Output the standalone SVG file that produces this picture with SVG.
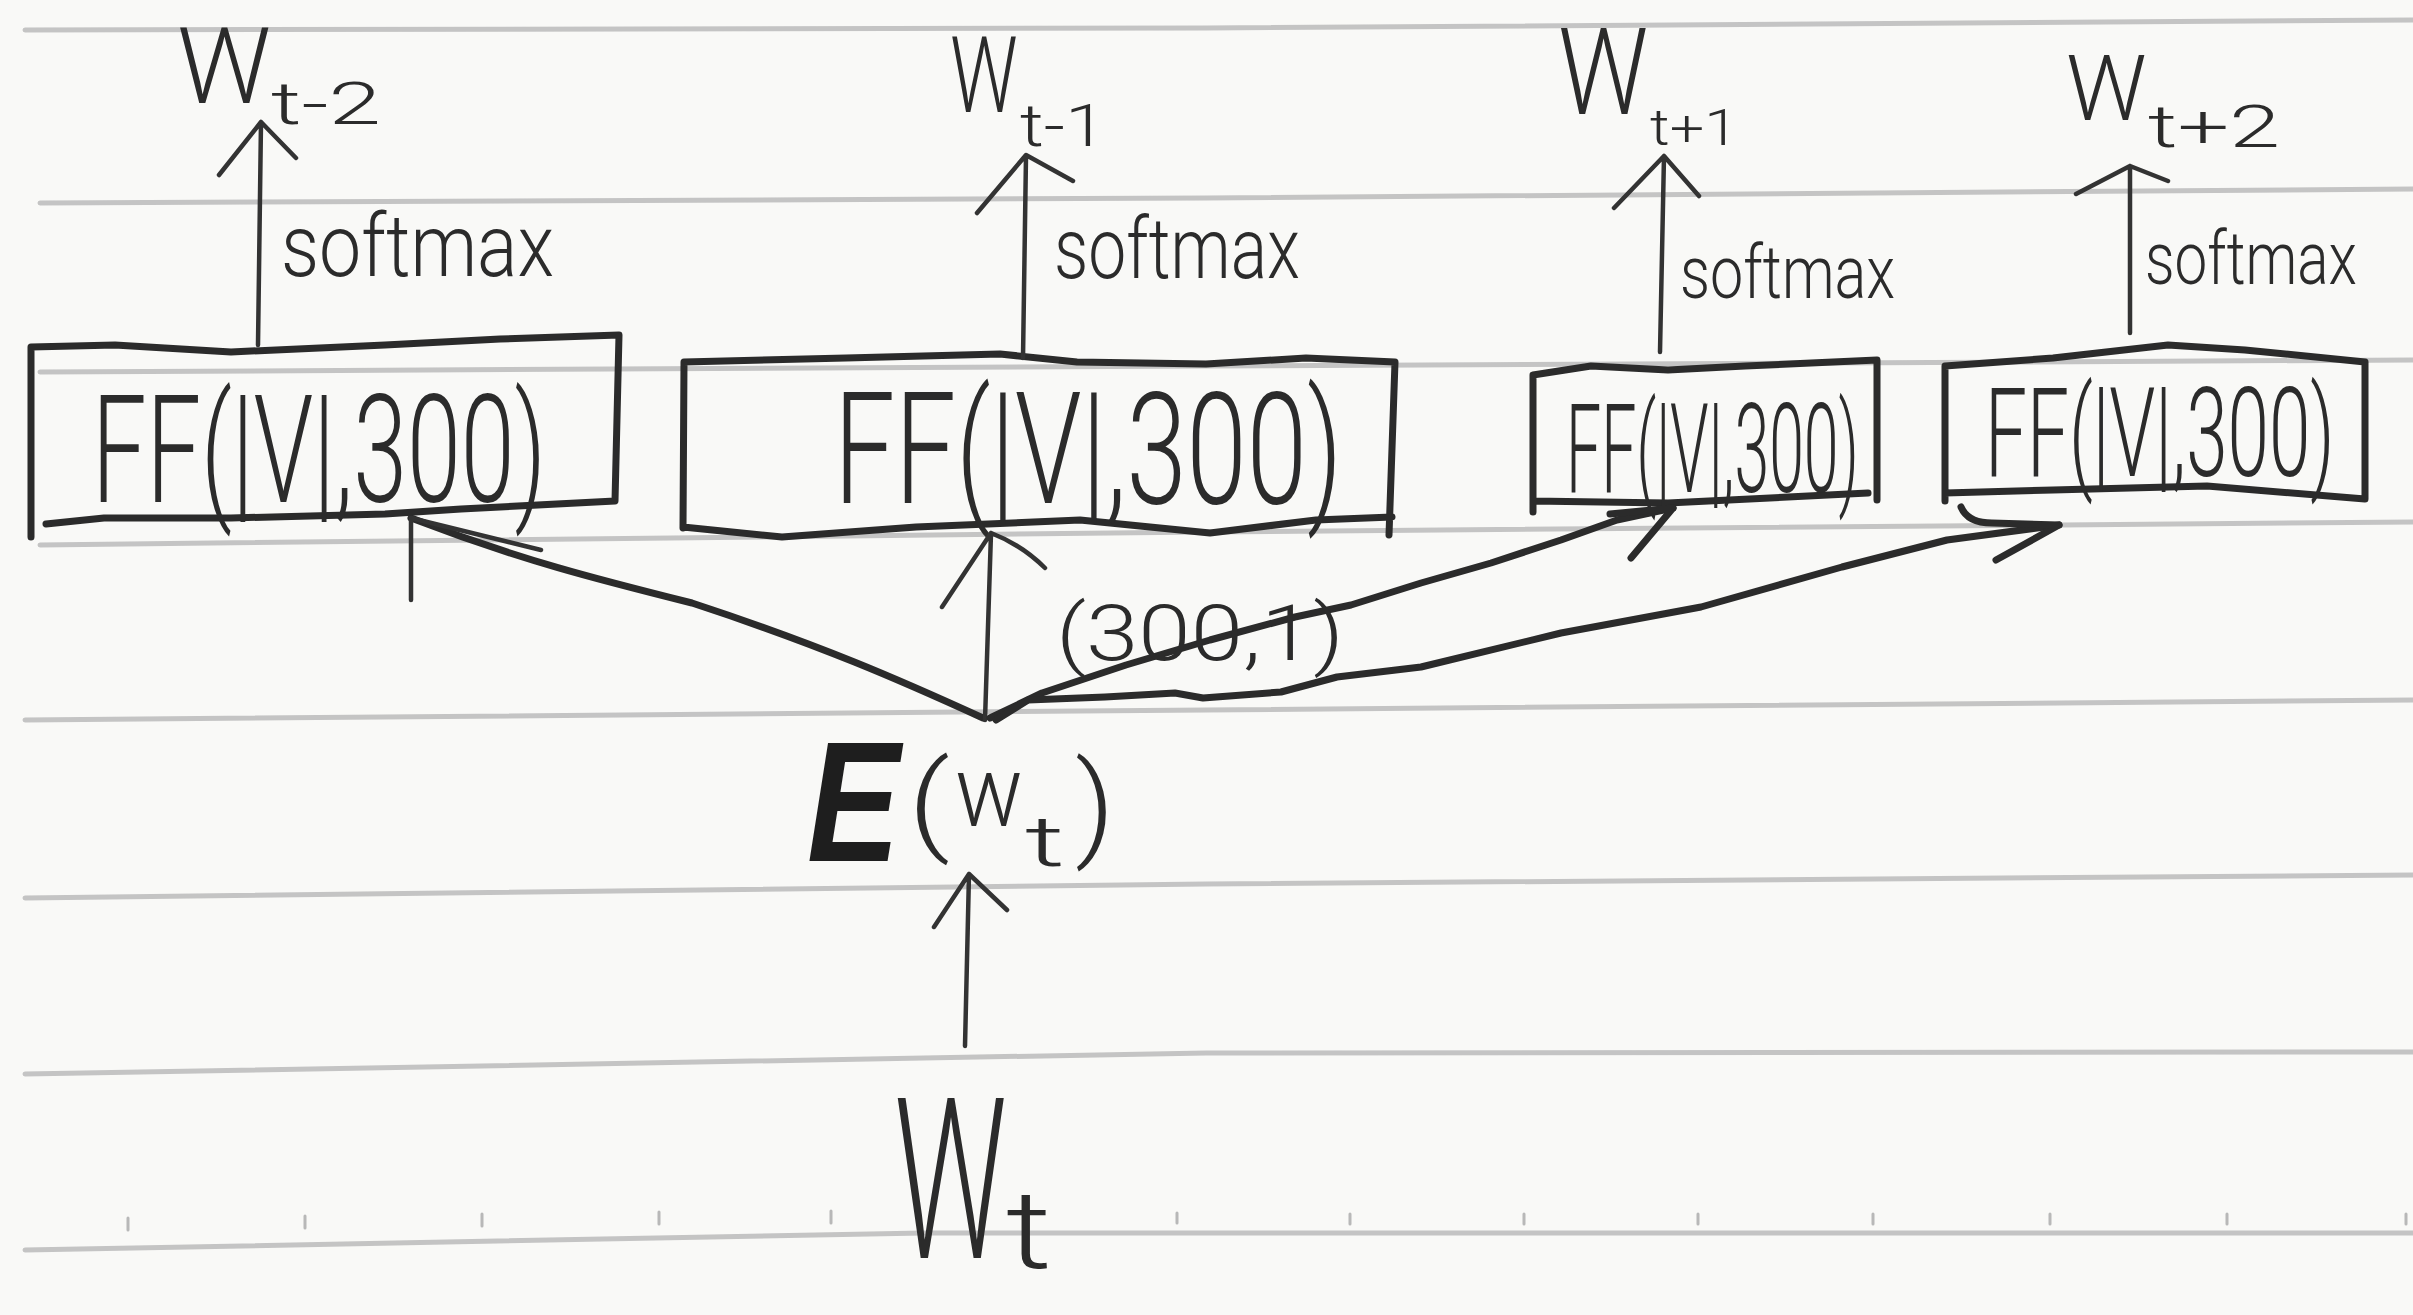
<svg xmlns="http://www.w3.org/2000/svg" width="2413" height="1315" viewBox="0 0 2413 1315">
<defs>
<style>
.paper{fill:#f9f9f7}
.rule{fill:none;stroke:#c4c4c4;stroke-width:5;stroke-linecap:round}
.tick{stroke:#b8b8b8;stroke-width:3;stroke-linecap:round}
.box{fill:none;stroke:#2b2b2b;stroke-width:7;stroke-linejoin:round;stroke-linecap:round}
.conn{fill:none;stroke:#2b2b2b;stroke-width:7;stroke-linecap:round;stroke-linejoin:round}
.arr{fill:none;stroke:#333;stroke-width:4.5;stroke-linecap:round;stroke-linejoin:round}
.hw{font-family:Roboto,"Liberation Sans",sans-serif;font-weight:300;fill:#2b2b2b}
.bold{font-family:"Liberation Sans",sans-serif;font-weight:bold;font-style:italic;fill:#1e1e1e}
</style>
</defs>
<rect class="paper" x="0" y="0" width="2413" height="1315"/>
<g id="paper-lines">
<path class="rule" d="M25,30 L1206,28 L2413,20"/>
<path class="rule" d="M40,203 L1206,198 L2413,189"/>
<path class="rule" d="M40,372 L1206,366 L2413,360"/>
<path class="rule" d="M40,545 L1206,532 L2413,522"/>
<path class="rule" d="M25,720 L1206,710 L2413,700"/>
<path class="rule" d="M25,898 L1206,884 L2413,875"/>
<path class="rule" d="M25,1074 L1206,1053 L2413,1052"/>
<path class="rule" d="M25,1250 L923,1233 L2413,1233"/>
<g class="tick">
<line x1="128" y1="1218" x2="128" y2="1230"/><line x1="305" y1="1216" x2="305" y2="1228"/><line x1="482" y1="1214" x2="482" y2="1226"/><line x1="659" y1="1212" x2="659" y2="1224"/><line x1="831" y1="1211" x2="831" y2="1223"/><line x1="1177" y1="1213" x2="1177" y2="1223"/><line x1="1350" y1="1214" x2="1350" y2="1224"/><line x1="1524" y1="1214" x2="1524" y2="1224"/><line x1="1698" y1="1214" x2="1698" y2="1224"/><line x1="1873" y1="1214" x2="1873" y2="1224"/><line x1="2050" y1="1214" x2="2050" y2="1224"/><line x1="2227" y1="1214" x2="2227" y2="1224"/><line x1="2406" y1="1214" x2="2406" y2="1224"/>
</g>
</g>

<g id="ff1">
<path class="box" d="M31,537 L31,347 L115,345 L231,352 L385,345 L500,339 L619,335 L615,501 L461,509 L385,514 L231,518 L104,518 L46,524"/>
<text class="hw" transform="translate(92,502) scale(0.646,1)" font-size="150">FF(|V|,300)</text>
</g>
<g id="ff2">
<path class="box" d="M683,528 L684,362 L846,358 L1000,354 L1077,362 L1206,364 L1306,358 L1395,362 L1389,535 M683,527 L782,537 L916,527 L1080,520 L1210,533 L1316,520 L1392,517"/>
<text class="hw" transform="translate(834,503) scale(0.70,1)" font-size="155">FF(|V|,300)</text>
</g>
<g id="ff3">
<path class="box" d="M1533,512 L1533,375 L1591,366 L1668,370 L1745,366 L1877,360 L1877,500 M1533,501 L1668,503 L1868,493"/>
<text class="hw" transform="translate(1566,492) scale(0.50,1)" font-size="125">FF(|V|,300)</text>
</g>
<g id="ff4">
<path class="box" d="M1945,501 L1945,366 L2053,358 L2168,345 L2245,350 L2365,362 L2365,499 L2207,486 L2053,490 L1945,493"/>
<text class="hw" transform="translate(1985,476) scale(0.597,1)" font-size="125">FF(|V|,300)</text>
</g>

<g id="w-t-2">
<text class="hw" x="177" y="103" font-size="105">W</text>
<text class="hw" x="271" y="124" font-size="60" textLength="110" lengthAdjust="spacingAndGlyphs">t-2</text>
</g>
<g id="w-t-1">
<text class="hw" transform="translate(950,112) scale(0.72,1)" font-size="105">W</text>
<text class="hw" x="1020" y="146" font-size="60" textLength="86" lengthAdjust="spacingAndGlyphs">t-1</text>
</g>
<g id="w-t+1">
<text class="hw" transform="translate(1558,114) scale(0.84,1)" font-size="120">W</text>
<text class="hw" x="1650" y="145" font-size="50" textLength="88" lengthAdjust="spacingAndGlyphs">t+1</text>
</g>
<g id="w-t+2">
<text class="hw" x="2066" y="120" font-size="90">W</text>
<text class="hw" x="2148" y="147" font-size="60" textLength="132" lengthAdjust="spacingAndGlyphs">t+2</text>
</g>

<g id="embedding">
<text class="bold" transform="translate(807,861) scale(0.82,1)" font-size="170">E</text>
<text class="hw" x="908" y="840" font-size="110" textLength="42" lengthAdjust="spacingAndGlyphs">(</text>
<text class="hw" transform="translate(955,826) scale(0.9,1)" font-size="100">w</text>
<text class="hw" x="1025" y="866" font-size="70" textLength="40" lengthAdjust="spacingAndGlyphs">t</text>
<text class="hw" x="1075" y="845" font-size="115" textLength="40" lengthAdjust="spacingAndGlyphs">)</text>
</g>
<g id="input">
<text class="hw" transform="translate(894,1258) scale(0.56,1)" font-size="225">W</text>
<text class="hw" x="1006" y="1268" font-size="110" textLength="46" lengthAdjust="spacingAndGlyphs">t</text>
</g>

<g id="connectors">
<path class="arr" d="M258,345 L261,122 M219,175 L261,122 L296,158"/>
<path class="arr" d="M1023,358 L1026,156 M977,213 L1026,155 L1073,181"/>
<path class="arr" d="M1660,352 L1664,156 M1614,208 L1664,156 L1699,196"/>
<path class="arr" d="M2130,333 L2130,166 M2076,194 L2130,166 L2168,181"/>
<path class="arr" d="M965,1046 L969,874 M934,927 L969,874 L1007,910"/>
<path class="conn" d="M983,718 C900,680 820,645 692,603 C600,580 520,560 411,518"/>
<path class="arr" d="M411,600 L411,518 L541,550"/>
<path class="arr" d="M985,720 L991,533 M942,607 L991,533 Q1022,545 1045,568"/>
<path class="conn" d="M990,718 L1042,693 L1126,665 L1210,640 L1295,617 L1351,605 L1421,583 L1491,563 L1561,540 L1617,520 L1673,508"/>
<path class="conn" d="M1610,514 L1673,508 M1673,508 L1631,558"/>
<path class="conn" d="M996,720 L1028,700 L1105,697 L1175,693 L1203,698 L1281,692 L1337,677 L1421,667 L1561,633 L1701,607 L1842,567 L1947,540 L2059,525"/>
<path class="conn" d="M1961,507 Q1968,523 1992,523 L2059,525 M2059,525 L1996,560"/>
<text class="hw" x="281" y="276" font-size="88" textLength="273" lengthAdjust="spacingAndGlyphs">softmax</text>
<text class="hw" x="1054" y="278" font-size="85" textLength="246" lengthAdjust="spacingAndGlyphs">softmax</text>
<text class="hw" x="1680" y="298" font-size="75" textLength="215" lengthAdjust="spacingAndGlyphs">softmax</text>
<text class="hw" x="2145" y="284" font-size="75" textLength="212" lengthAdjust="spacingAndGlyphs">softmax</text>
<text class="hw" x="1056" y="660" font-size="78" textLength="288" lengthAdjust="spacingAndGlyphs">(300,1)</text>
</g>
</svg>
